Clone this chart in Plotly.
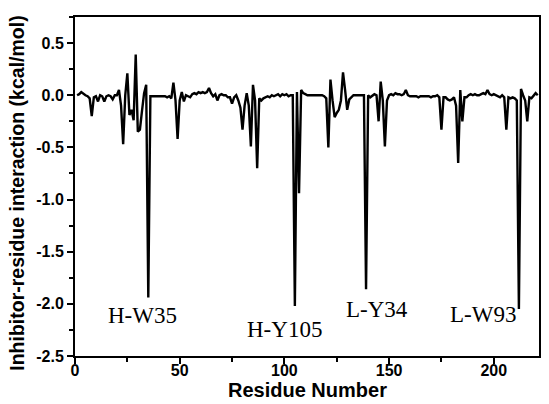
import plotly.graph_objects as go

residues = list(range(1, 222))
energy = [
    # 1-10
    0.00, 0.01, 0.03, 0.01, 0.00, -0.01, -0.03, -0.20, -0.02, -0.01,
    # 11-20
    -0.06, 0.00, -0.01, -0.06, -0.01, 0.00, -0.01, -0.04, 0.00, 0.00,
    # 21-30
    0.05, -0.10, -0.47, 0.00, 0.21, -0.19, -0.14, -0.24, 0.39, -0.35,
    # 31-40
    -0.33, -0.15, 0.02, 0.10, -1.94, -0.01, -0.01, -0.01, -0.01, -0.01,
    # 41-50
    -0.01, -0.01, -0.01, -0.02, -0.01, -0.03, 0.12, -0.05, -0.42, -0.05,
    # 51-60
    0.03, -0.06, 0.00, -0.01, -0.02, 0.01, 0.02, 0.01, 0.03, 0.02,
    # 61-70
    0.03, 0.02, 0.03, 0.07, 0.02, -0.01, 0.01, -0.05, 0.00, 0.01,
    # 71-80
    0.00, 0.00, -0.02, -0.02, -0.08, -0.02, 0.00, -0.05, -0.12, -0.33,
    # 81-90
    -0.10, 0.02, -0.10, -0.49, 0.10, -0.05, -0.70, -0.03, -0.05, -0.03,
    # 91-100
    -0.02, -0.01, -0.02, 0.00, -0.01, 0.00, 0.01, -0.01, 0.01, 0.00,
    # 101-110
    0.01, -0.01, 0.00, 0.00, -2.02, 0.03, -0.94, 0.05, 0.02, 0.01,
    # 111-120
    0.00, 0.00, 0.00, 0.00, 0.00, 0.00, 0.00, 0.00, -0.01, -0.03,
    # 121-130
    -0.50, 0.15, -0.05, -0.21, -0.17, -0.14, -0.05, 0.22, 0.05, -0.14,
    # 131-140
    -0.04, -0.02, 0.00, 0.00, 0.00, 0.00, 0.00, 0.00, -1.86, 0.00,
    # 141-150
    -0.02, 0.00, 0.01, 0.00, -0.25, 0.13, -0.05, -0.49, -0.05, 0.00,
    # 151-160
    0.01, 0.00, 0.02, 0.01, 0.01, 0.00, 0.01, 0.05, 0.00, -0.01,
    # 161-170
    -0.01, -0.01, -0.01, -0.02, -0.01, -0.01, -0.01, -0.01, -0.01, -0.02,
    # 171-180
    -0.01, -0.01, 0.00, -0.02, -0.33, -0.02, -0.02, -0.04, -0.05, -0.04,
    # 181-190
    -0.02, -0.10, -0.65, 0.05, -0.25, -0.02, -0.02, 0.00, 0.01, 0.00,
    # 191-200
    0.01, 0.00, 0.00, 0.01, 0.02, 0.01, 0.05, 0.01, 0.00, 0.01,
    # 201-210
    0.00, -0.01, -0.02, 0.00, -0.02, -0.33, -0.02, -0.03, -0.02, -0.03,
    # 211-221
    -0.05, -2.05, 0.06, 0.00, -0.05, -0.25, -0.02, -0.03, -0.01, 0.02, 0.00,
]

label_text = ["H-W35", "H-Y105", "L-Y34", "L-W93"]
label_x = [32, 100, 144, 195]
label_y = [-2.11, -2.25, -2.05, -2.10]

x_title = "Residue Number"
y_title = "Inhibitor-residue interaction (kcal/mol)"

fig = go.Figure()
fig.add_trace(go.Scatter(
    x=residues, y=energy, mode="lines",
    line=dict(color="black", width=2.4),
    showlegend=False,
))

for t, x, y in zip(label_text, label_x, label_y):
    fig.add_annotation(x=x, y=y, text=t, showarrow=False,
                       font=dict(family="Liberation Serif, Times New Roman, serif",
                                 size=23, color="black"))

tick_font = dict(family="Liberation Sans, Arial, sans-serif", size=16, color="black", weight="bold")
title_font = dict(family="Liberation Sans, Arial, sans-serif", size=20, color="black", weight="bold")
ytitle_font = dict(family="Liberation Sans, Arial, sans-serif", size=19.5, color="black", weight="bold")

# axis titles placed as paper-anchored annotations
fig.add_annotation(xref="paper", yref="paper", x=0.5, y=-0.1, yanchor="middle",
                   text=x_title, showarrow=False, font=title_font)
fig.add_annotation(xref="paper", yref="paper", x=-0.124, y=0.48, xanchor="center",
                   yanchor="middle", textangle=-90,
                   text=y_title, showarrow=False, font=ytitle_font)

fig.update_xaxes(
    range=[0, 221.6], tickvals=[0, 50, 100, 150, 200],
    ticks="outside", ticklen=6, tickwidth=2, tickcolor="black",
    minor=dict(dtick=25, tick0=0, ticks="outside", ticklen=4, tickwidth=2, tickcolor="black"),
    showline=True, linewidth=2, linecolor="black", mirror=True,
    showgrid=False, zeroline=False, automargin=False,
    tickfont=tick_font, ticklabelstandoff=-7,
)
fig.update_yaxes(
    range=[-2.5, 0.75], tickvals=[-2.5, -2.0, -1.5, -1.0, -0.5, 0.0, 0.5],
    ticktext=["-2.5", "-2.0", "-1.5", "-1.0", "-0.5", "0.0", "0.5"],
    ticks="outside", ticklen=6, tickwidth=2, tickcolor="black",
    minor=dict(dtick=0.25, tick0=0, ticks="outside", ticklen=4, tickwidth=2, tickcolor="black"),
    showline=True, linewidth=2, linecolor="black", mirror=True,
    showgrid=False, zeroline=False, automargin=False,
    tickfont=tick_font,
)

# page body has an 8px default margin, so the plot area is offset to compensate
fig.update_layout(
    width=549, height=404,
    margin=dict(l=67, r=18, t=9, b=56),
    paper_bgcolor="white", plot_bgcolor="white",
)

fig.write_html("out.html")
